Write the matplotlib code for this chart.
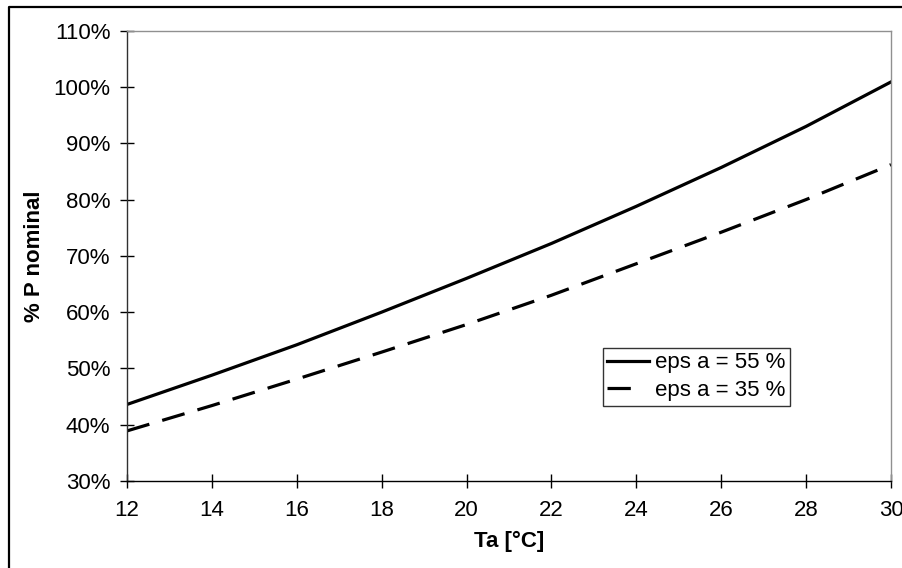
import matplotlib.pyplot as plt
from matplotlib.lines import Line2D
from matplotlib.ticker import FuncFormatter

plt.rcParams['font.family'] = ['Liberation Sans', 'DejaVu Sans']

# Data
ta = [12, 14, 16, 18, 20, 22, 24, 26, 28, 30]
p_eps55 = [43.6, 48.8, 54.2, 60.0, 66.0, 72.2, 78.8, 85.7, 93.0, 100.9]
p_eps35 = [38.9, 43.4, 48.1, 52.9, 57.8, 63.0, 68.6, 74.2, 80.0, 86.2]
labels = ['eps a = 55 %', 'eps a = 35 %']

W, H = 903, 568
fs = 16
fig = plt.figure(figsize=(W / 100, H / 100), dpi=100)
ax = fig.add_axes([127 / W, 1 - 481 / H, (891 - 127) / W, (481 - 30.7) / H])

lw = 2.3
ax.plot(ta, p_eps55, color='black', lw=lw, label=labels[0])
ax.plot(ta, p_eps35, color='black', lw=lw, dashes=(7.3, 4.2), label=labels[1])

ax.set_xlim(12, 30)
ax.set_ylim(30, 110)
ax.set_xticks(range(12, 31, 2))
ax.set_yticks(range(30, 111, 10))
ax.yaxis.set_major_formatter(FuncFormatter(lambda v, p: f'{v:.0f}%'))

ax.tick_params(direction='inout', length=10, width=1, labelsize=fs, color='black')
ax.tick_params(axis='y', pad=7)
ax.tick_params(axis='x', pad=9)

ax.spines['left'].set_color('#303030')
ax.spines['bottom'].set_color('black')
ax.spines['top'].set_color('#909090')
ax.spines['right'].set_color('#909090')
for s in ax.spines.values():
    s.set_linewidth(1)

ax.set_xlabel('Ta [°C]', fontsize=fs, fontweight='bold', labelpad=7)
ax.set_ylabel('% P nominal', fontsize=fs, fontweight='bold', labelpad=6)

leg = ax.legend(loc='upper left', bbox_to_anchor=((603 - 127) / 764, (481 - 348) / 450.3),
                borderaxespad=0, fontsize=fs, frameon=True, fancybox=False,
                edgecolor='black', handlelength=1.85, handletextpad=0.3,
                labelspacing=0.3, borderpad=0.2)
leg.get_frame().set_linewidth(1)
# dashed handle shows a single dash, like the original
leg.get_lines()[1].set_dashes((7.3, 20))

# outer chart frame
fig.add_artist(Line2D([8.5 / W, 8.5 / W, 1.0], [0.0, 1 - 6.5 / H, 1 - 6.5 / H],
                      transform=fig.transFigure, color='black', lw=1.6))

fig.savefig('out.png', dpi=100)
